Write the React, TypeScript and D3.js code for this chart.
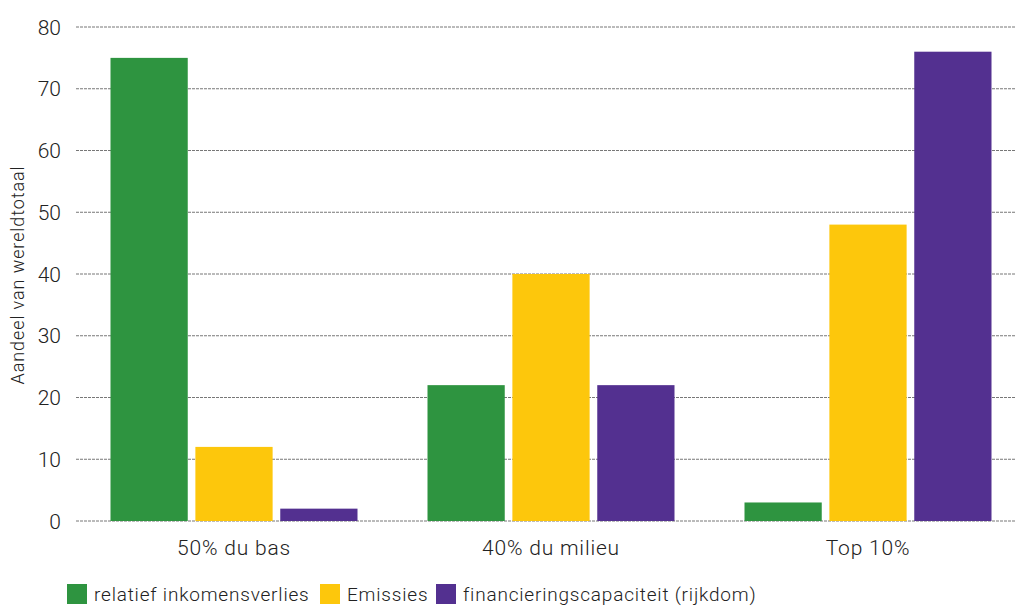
import React from "react";
import * as d3 from "d3";

const categories = ["50% du bas", "40% du milieu", "Top 10%"];
const seriesNames = ["relatief inkomensverlies", "Emissies", "financieringscapaciteit (rijkdom)"];
const inkomensverlies = [75, 22, 3];
const emissies = [12, 40, 48];
const rijkdom = [2, 22, 76];
const yTicks = [0, 10, 20, 30, 40, 50, 60, 70, 80];
const colors = ["#2e9440", "#fdc70c", "#533090"];

const W = 1016;
const H = 608;
const FONT = "Roboto, 'DejaVu Sans Condensed', sans-serif";

export default function App() {
  const series = [inkomensverlies, emissies, rijkdom];
  const x0 = d3.scaleBand<string>().domain(categories).range([75.5, 1026.5]).paddingInner(0).paddingOuter(0);
  const inner = d3.scaleBand<number>().domain([0, 1, 2]).range([35, 317 - 35]).paddingInner(0.09);
  const y = d3.scaleLinear().domain([0, 80]).range([521, 27]);
  const legendX = [67, 320, 436];

  return (
    <svg width={W} height={H} style={{ position: "absolute", left: 0, top: 0, background: "#fff" }}>
      <g>
        {yTicks.map((t) => (
          <g key={t}>
            <line x1={76} x2={W} y1={y(t)} y2={y(t)} stroke="#777" strokeWidth={1} strokeDasharray="3,1" />
            <text x={61} y={y(t)} dy="0.36em" textAnchor="end" fontFamily={FONT} fontWeight={300} fontSize={21} fill="#222">
              {t}
            </text>
          </g>
        ))}
      </g>
      <text
        transform={`translate(24,275) rotate(-90)`}
        textAnchor="middle"
        fontFamily={FONT}
        fontWeight={300}
        fontSize={18}
        letterSpacing={0.9}
        fill="#222"
      >
        Aandeel van wereldtotaal
      </text>
      {categories.map((c, ci) => (
        <g key={c} transform={`translate(${x0(c)},0)`}>
          {series.map((s, si) => (
            <rect
              key={si}
              x={inner(si)}
              y={y(s[ci])}
              width={inner.bandwidth()}
              height={y(0) - y(s[ci])}
              fill={colors[si]}
            />
          ))}
          <text
            x={x0.bandwidth() / 2}
            y={555}
            textAnchor="middle"
            fontFamily={FONT}
            fontWeight={300}
            fontSize={21}
            letterSpacing={0.8}
            fill="#222"
          >
            {c}
          </text>
        </g>
      ))}
      {seriesNames.map((n, i) => (
        <g key={n} transform={`translate(${legendX[i]},584)`}>
          <rect x={0} y={0} width={20} height={20} fill={colors[i]} />
          <text x={27} y={10} dy="0.38em" fontFamily={FONT} fontWeight={300} fontSize={19} letterSpacing={0.8} fill="#222">
            {n}
          </text>
        </g>
      ))}
    </svg>
  );
}
